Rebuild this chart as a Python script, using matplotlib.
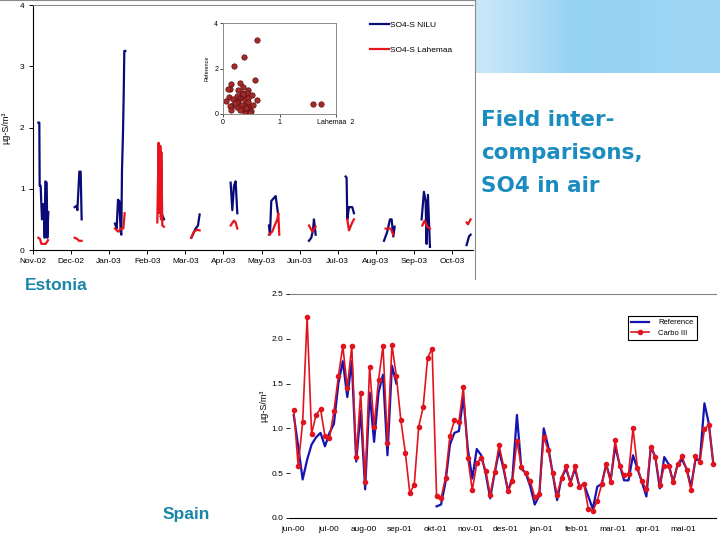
import numpy as np
import matplotlib.pyplot as plt
from matplotlib.colors import LinearSegmentedColormap

nan = np.nan

# ---- Estonia: monthly campaigns, x in months since Nov-02 ----
months_ee = ["Nov-02", "Dec-02", "Jan-03", "Feb-03", "Mar-03", "Apr-03",
             "May-03", "Jun-03", "Jul-03", "Aug-03", "Sep-03", "Oct-03"]

nilu_x = [0.14, 0.166, 0.175, 0.201, 0.219, 0.236, 0.262, 0.289, 0.306, 0.324, 0.359, 0.376, 0.402, nan,
          1.094, 1.146, 1.164, 1.19, 1.216, 1.251, 1.277, nan,
          2.152, 2.196, 2.231, 2.266, 2.301, 2.318, 2.336, 2.362, 2.38, 2.397, 2.423, nan,
          3.351, 3.395, 3.438, nan,
          4.156, 4.269, 4.331, 4.374, nan,
          5.188, 5.232, 5.276, 5.319, 5.363, nan,
          6.194, 6.22, 6.255, 6.325, 6.369, 6.43, nan,
          7.244, 7.305, 7.349, 7.375, 7.419, nan,
          8.206, 8.232, 8.25, 8.294, 8.381, 8.425, nan,
          9.213, 9.3, 9.37, 9.414, 9.458, 9.493, nan,
          10.201, 10.262, 10.306, 10.332, 10.367, 10.42, nan,
          11.382, 11.444, 11.487]
nilu_y = [2.08, 2.08, 1.05, 1.05, 0.75, 0.5, 0.75, 0.75, 0.2, 1.12, 1.1, 0.2, 0.62, nan,
          0.70, 0.72, 0.65, 0.95, 1.28, 1.28, 0.50, nan,
          0.43, 0.35, 0.82, 0.80, 0.30, 0.25, 1.30, 1.90, 2.50, 3.25, 3.25, nan,
          0.55, 0.57, 0.50, nan,
          0.20, 0.35, 0.40, 0.58, nan,
          1.10, 0.65, 1.05, 1.12, 0.60, nan,
          0.40, 0.25, 0.80, 0.85, 0.88, 0.60, nan,
          0.15, 0.20, 0.32, 0.50, 0.25, nan,
          1.20, 1.18, 0.50, 0.70, 0.70, 0.60, nan,
          0.15, 0.30, 0.50, 0.50, 0.22, 0.38, nan,
          0.50, 0.95, 0.80, 0.10, 0.90, 0.05, nan,
          0.08, 0.22, 0.25]

lahemaa_x = [0.14, 0.184, 0.219, 0.332, 0.394, nan,
             1.094, 1.164, 1.207, 1.277, nan,
             2.152, 2.231, 2.318, 2.371, 2.406, nan,
             3.263, 3.298, 3.325, 3.342, 3.36, 3.368, 3.395, 3.438, nan,
             4.156, 4.226, 4.313, 4.374, nan,
             5.188, 5.276, 5.319, 5.363, nan,
             6.194, 6.281, 6.343, 6.413, 6.439, 6.465, nan,
             7.244, 7.332, 7.419, nan,
             8.25, 8.294, 8.381, 8.425, nan,
             9.256, 9.388, 9.458, nan,
             10.219, 10.28, 10.35, 10.42, nan,
             11.382, 11.417, 11.487]
lahemaa_y = [0.20, 0.18, 0.10, 0.10, 0.16, nan,
             0.20, 0.18, 0.15, 0.15, nan,
             0.35, 0.30, 0.35, 0.35, 0.60, nan,
             0.45, 1.75, 0.60, 1.70, 0.50, 1.60, 0.40, 0.38, nan,
             0.20, 0.30, 0.33, 0.32, nan,
             0.40, 0.48, 0.45, 0.35, nan,
             0.25, 0.30, 0.40, 0.50, 0.60, 0.25, nan,
             0.40, 0.30, 0.38, nan,
             0.50, 0.32, 0.45, 0.50, nan,
             0.35, 0.35, 0.25, nan,
             0.40, 0.48, 0.38, 0.35, nan,
             0.45, 0.42, 0.50]

# inset scatter: Lahemaa (x) vs Reference (y)
sc_lahemaa = [0.61, 0.38, 0.19, 0.57, 0.15, 0.30, 0.12, 0.36, 0.45, 0.42, 0.51, 0.61, 0.11, 0.18,
              0.24, 0.30, 0.36, 0.39, 0.27, 0.18, 0.12, 0.24, 0.33, 0.42, 0.47, 0.53, 0.15, 0.36,
              0.42, 0.46, 0.50, 0.30, 1.60, 1.73, 0.06, 0.27, 0.33, 0.45, 0.39, 0.47, 0.24, 0.40,
              0.44, 0.35, 0.21, 0.08]
sc_reference = [3.27, 2.49, 2.09, 1.50, 1.32, 1.38, 1.09, 1.18, 1.06, 0.92, 0.84, 0.63, 0.74, 0.65,
                0.77, 0.70, 0.77, 0.63, 0.55, 0.41, 0.33, 0.31, 0.41, 0.45, 0.36, 0.41, 0.19, 0.22,
                0.12, 0.16, 0.12, 0.16, 0.44, 0.45, 0.55, 1.06, 0.92, 0.70, 0.04, 0.04, 0.51, 0.28,
                0.52, 0.86, 0.50, 1.10]

# ---- Spain: samples every ~3.8 days, x in months since jun-00 ----
months_es = ["jun-00", "jul-00", "aug-00", "sep-01", "okt-01", "nov-01",
             "des-01", "jan-01", "feb-01", "mar-01", "apr-01", "mai-01"]

carbo = [1.21, 0.58, 1.07, 2.24, 0.94, 1.15, 1.22, 0.91, 0.89, 1.19,
         1.58, 1.92, 1.45, 1.92, 0.68, 1.40, 0.40, 1.69, 1.02, 1.54,
         1.92, 0.84, 1.93, 1.58, 1.09, 0.73, 0.28, 0.37, 1.02, 1.24,
         1.79, 1.89, 0.25, 0.22, 0.45, 0.92, 1.09, 1.07, 1.46, 0.67,
         0.31, 0.61, 0.67, 0.53, 0.26, 0.51, 0.81, 0.58, 0.30, 0.41,
         0.86, 0.57, 0.50, 0.41, 0.23, 0.27, 0.90, 0.76, 0.50, 0.26,
         0.45, 0.58, 0.38, 0.58, 0.35, 0.38, 0.10, 0.08, 0.19, 0.38,
         0.60, 0.40, 0.87, 0.58, 0.48, 0.49, 1.00, 0.56, 0.41, 0.32,
         0.79, 0.68, 0.37, 0.58, 0.58, 0.40, 0.60, 0.69, 0.54, 0.31,
         0.69, 0.63, 0.99, 1.04, 0.60]
reference = [1.15, 0.80, 0.43, 0.65, 0.82, 0.90, 0.95, 0.80, 0.95, 1.05,
             1.50, 1.75, 1.35, 1.75, 0.63, 1.20, 0.32, 1.40, 0.85, 1.40,
             1.60, 0.70, 1.70, 1.50, nan, nan, nan, nan, nan, nan,
             nan, nan, 0.13, 0.15, 0.40, 0.82, 0.95, 0.97, 1.35, 0.77,
             0.44, 0.77, 0.70, 0.50, 0.22, 0.50, 0.75, 0.55, 0.30, 0.45,
             1.15, 0.55, 0.50, 0.35, 0.15, 0.25, 1.00, 0.80, 0.50, 0.20,
             0.45, 0.55, 0.40, 0.55, 0.35, 0.38, 0.24, 0.10, 0.35, 0.38,
             0.60, 0.42, 0.80, 0.60, 0.42, 0.42, 0.70, 0.55, 0.40, 0.24,
             0.80, 0.68, 0.33, 0.68, 0.60, 0.40, 0.60, 0.65, 0.55, 0.35,
             0.65, 0.65, 1.28, 1.05, 0.60]
es_start, es_step = 0.02, 0.1258

plt.rcParams['font.family'] = ['Liberation Sans', 'DejaVu Sans']

fig = plt.figure(figsize=(7.2, 5.4), dpi=100)
W, H = 720.0, 540.0

def fx(px):
    return px / W

def fy(py):
    return 1 - py / H

# light blue band at the top
band = fig.add_axes([0, fy(73), 1, 73 / H], zorder=0)
cmap = LinearSegmentedColormap.from_list("band", [(0, "#e6f3fc"), (0.55, "#d2ebfa"),
                                                  (0.68, "#c6e6f8"), (0.8, "#95d2f4"), (1, "#a0d6f5")])
band.imshow(np.linspace(0, 1, 256)[None, :], aspect="auto", cmap=cmap, extent=[0, 1, 0, 1])
band.axis("off")

# white chart area of Estonia graph
chart = fig.add_axes([0, fy(279), fx(475), 279 / H], zorder=1)
chart.set_xticks([])
chart.set_yticks([])
for s in ["left", "bottom"]:
    chart.spines[s].set_visible(False)
for s in ["right", "top"]:
    chart.spines[s].set_color("#8a8a8a")

# ---- Estonia time series ----
ax1 = fig.add_axes([fx(33), fy(250), fx(473 - 33), (250 - 5) / H], zorder=2)
ax1.patch.set_alpha(0)
ax1.plot(nilu_x, nilu_y, color="#0a0a78", lw=1.6, label="SO4-S NILU")
ax1.plot(lahemaa_x, lahemaa_y, color="#e8141c", lw=1.6, label="SO4-S Lahemaa")
ax1.set_xlim(0, 11.55)
ax1.set_ylim(0, 4)
ax1.set_xticks(range(12))
ax1.set_xticklabels(months_ee, fontsize=6)
ax1.set_yticks([0, 1, 2, 3, 4])
ax1.tick_params(labelsize=6, length=3, width=0.7, pad=3)
ax1.spines["right"].set_visible(False)
ax1.spines["top"].set_color("#8a8a8a")
ax1.set_ylabel("µg-S/m³", fontsize=6.5, labelpad=7)
ax1.legend(loc="upper left", bbox_to_anchor=(fx(362), fy(14)), bbox_transform=fig.transFigure,
           frameon=False, fontsize=6, handlelength=2.3, handletextpad=0.2, labelspacing=2.0)

# inset scatter
ins = fig.add_axes([fx(223), fy(114), fx(336 - 223), (114 - 23) / H], zorder=3)
ins.scatter(sc_lahemaa, sc_reference, s=15, color="#a52a2a", edgecolors="#5a1010", linewidths=0.5)
ins.set_xlim(0, 2)
ins.set_ylim(0, 4)
ins.set_xticks([0, 1, 2])
ins.set_yticks([0, 2, 4])
ins.set_xticklabels(["0", "1", "Lahemaa  2"])
ins.tick_params(labelsize=5, length=2, width=0.5, pad=1.5)
for s in ins.spines.values():
    s.set_color("#8a8a8a")
    s.set_linewidth(0.7)
ins.set_ylabel("Reference", fontsize=4, labelpad=3)

# ---- Spain time series ----
es_x = es_start + es_step * np.arange(len(carbo))
ax2 = fig.add_axes([fx(290), fy(518), fx(716 - 290), (518 - 294) / H], zorder=2)
ax2.plot(es_x, reference, color="#1414b4", lw=1.6, label="Reference")
ax2.plot(es_x, carbo, color="#e0141e", lw=1.2, marker="o", ms=3, label="Carbo III")
ax2.set_xlim(-0.085, 11.92)
ax2.set_ylim(0, 2.5)
ax2.set_xticks(range(12))
ax2.set_xticklabels(months_es, fontsize=6)
ax2.set_yticks([0, 0.5, 1.0, 1.5, 2.0, 2.5])
ax2.set_yticklabels(["0.0", "0.5", "1.0", "1.5", "2.0", "2.5"])
ax2.tick_params(axis="y", labelsize=6, length=3, width=0.6, pad=2)
ax2.tick_params(axis="x", length=0, pad=6)
ax2.spines["left"].set_visible(False)
ax2.spines["right"].set_visible(False)
ax2.spines["top"].set_color("#808080")
ax2.set_ylabel("µg-S/m³", fontsize=6.5, labelpad=2)
leg = ax2.legend(loc="upper left", bbox_to_anchor=(fx(624), fy(312)), bbox_transform=fig.transFigure,
                 fontsize=5.5, fancybox=False, framealpha=1, handlelength=2.4, borderpad=0.4,
                 labelspacing=0.4, handletextpad=1.2)
leg.get_frame().set_edgecolor("black")
leg.get_frame().set_linewidth(0.8)

# slide texts
fig.text(fx(481), fy(110), "Field inter-\ncomparisons,\nSO4 in air", fontsize=15.5,
         family="DejaVu Sans", weight="bold", color="#1a8cc0", va="top", ha="left", linespacing=1.8)
fig.text(fx(25), fy(286), "Estonia", fontsize=12.5, weight="bold", color="#1a86a8", va="center")
fig.text(fx(163), fy(514), "Spain", fontsize=12.5, weight="bold", color="#1a86a8", va="center")

fig.savefig("out.png", dpi=100)
